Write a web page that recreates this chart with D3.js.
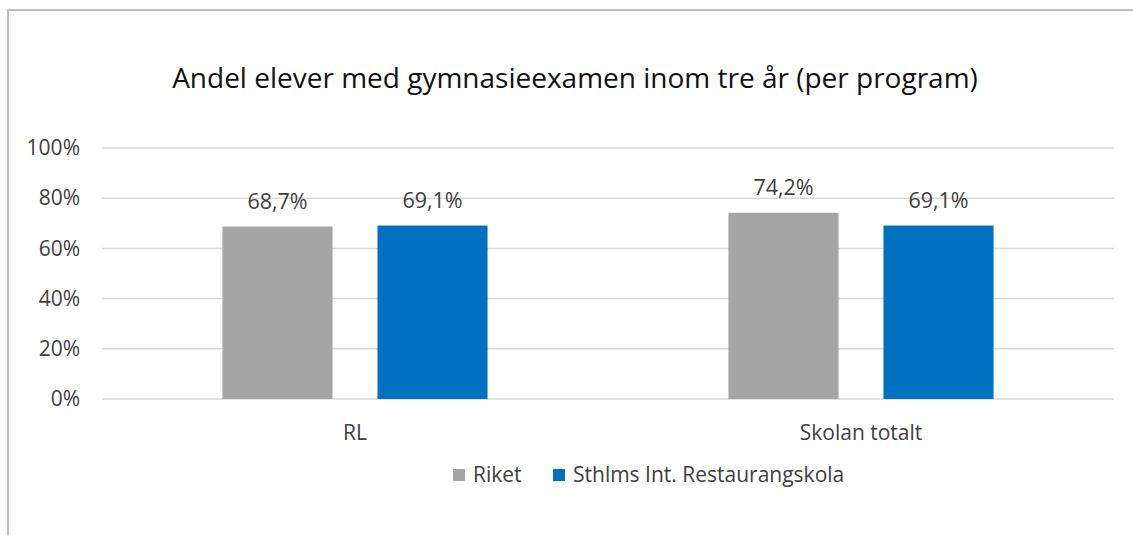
<!DOCTYPE html>
<html>
<head>
<meta charset="utf-8">
<script src="https://cdn.jsdelivr.net/npm/d3@7"></script>
<style>
  body { margin: 0; background: #fff; }
  svg { display: block; font-family: "Open Sans", sans-serif; }
</style>
</head>
<body>
<svg id="chart" width="1133" height="535"></svg>
<script>
// chart data
var title = 'Andel elever med gymnasieexamen inom tre år (per program)';
var categories = ['RL', 'Skolan totalt'];
var seriesNames = ['Riket', 'Sthlms Int. Restaurangskola'];
var riket = [68.7, 74.2];
var skolan = [69.1, 69.1];
var yTicks = [0, 20, 40, 60, 80, 100];

var colors = ['#A5A5A5', '#0070C0'];
var seriesValues = [riket, skolan];

var svg = d3.select('#chart');

// frame (the picture is cropped on the right and bottom)
svg.append('path')
    .attr('d', 'M8,540 L8,10 L1140,10')
    .attr('fill', 'none')
    .attr('stroke', '#BFBFBF')
    .attr('stroke-width', 2);

svg.append('text')
    .attr('x', 575)
    .attr('y', 88)
    .attr('text-anchor', 'middle')
    .attr('font-size', 28)
    .attr('fill', '#111')
    .text(title);

var plotLeft = 102, plotRight = 1114, plotTop = 148, plotBottom = 399;

var x = d3.scaleBand()
    .domain(categories)
    .range([plotLeft, plotRight])
    .padding(0);

var xInner = d3.scaleBand()
    .domain(d3.range(seriesNames.length))
    .range([0, x.bandwidth()])
    .paddingInner(0.29)
    .paddingOuter(0.777);

var y = d3.scaleLinear()
    .domain([0, 100])
    .range([plotBottom, plotTop]);

// gridlines
svg.append('g')
    .selectAll('line')
    .data(yTicks)
    .join('line')
    .attr('x1', plotLeft)
    .attr('x2', plotRight)
    .attr('y1', function(d) { return y(d); })
    .attr('y2', function(d) { return y(d); })
    .attr('stroke', '#D9D9D9')
    .attr('stroke-width', 1.5);

// y axis labels
var yAxis = d3.axisLeft(y)
    .tickValues(yTicks)
    .tickSize(0)
    .tickPadding(0)
    .tickFormat(function(d) { return d + '%'; });

var gy = svg.append('g')
    .attr('transform', 'translate(80,0)')
    .call(yAxis);
gy.select('.domain').remove();
gy.selectAll('text')
    .attr('font-family', '"Open Sans", sans-serif')
    .attr('font-size', 21)
    .attr('fill', '#404040');

// bars
var groups = svg.append('g')
    .selectAll('g')
    .data(categories)
    .join('g')
    .attr('transform', function(d) { return 'translate(' + x(d) + ',0)'; });

groups.each(function(cat, ci) {
    var g = d3.select(this);
    seriesValues.forEach(function(vals, si) {
        var v = vals[ci];
        g.append('rect')
            .attr('x', xInner(si))
            .attr('y', y(v))
            .attr('width', xInner.bandwidth())
            .attr('height', y(0) - y(v))
            .attr('fill', colors[si]);
        g.append('text')
            .attr('x', xInner(si) + xInner.bandwidth() / 2)
            .attr('y', y(v) - 18)
            .attr('text-anchor', 'middle')
            .attr('font-size', 21.5)
            .attr('fill', '#404040')
            .text(v.toFixed(1).replace('.', ',') + '%');
    });
});

// x axis labels
var xAxis = d3.axisBottom(x).tickSize(0).tickPadding(0);
var gx = svg.append('g')
    .attr('transform', 'translate(0,' + 440 + ')')
    .call(xAxis);
gx.select('.domain').remove();
gx.selectAll('text')
    .attr('dy', 0)
    .attr('font-family', '"Open Sans", sans-serif')
    .attr('font-size', 21)
    .attr('fill', '#404040');

// legend
var legendX = [453, 553];
var legend = svg.append('g')
    .selectAll('g')
    .data(seriesNames)
    .join('g')
    .attr('transform', function(d, i) { return 'translate(' + legendX[i] + ',469)'; });
legend.append('rect')
    .attr('width', 12)
    .attr('height', 12)
    .attr('fill', function(d, i) { return colors[i]; });
legend.append('text')
    .attr('x', 20)
    .attr('y', 13)
    .attr('font-size', 21)
    .attr('fill', '#404040')
    .text(function(d) { return d; });
</script>
</body>
</html>
